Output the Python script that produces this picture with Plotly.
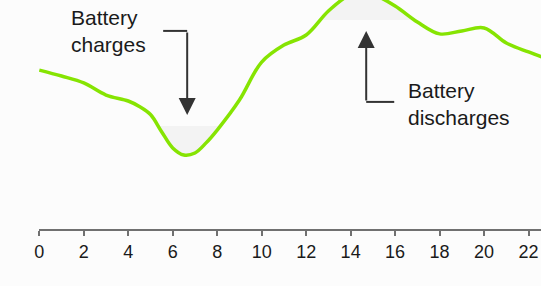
import plotly.graph_objects as go

# ---- data ----
hours = [0, 1, 2, 3, 4, 4.5, 5, 5.5, 6, 6.5, 7, 7.5, 8, 9, 10, 11, 12, 13, 14, 14.5,
         15, 16, 17, 18, 19, 20, 21, 22, 23]
power = [69.4, 66.8, 63.8, 58.5, 55.9, 53.5, 50.0, 42.5, 35.4, 32.3, 33.2, 37.6, 43.2,
         56.3, 72.9, 80.3, 84.7, 95.2, 102.5, 103.5, 102.5, 97.4, 90.4, 85.2,
         86.5, 87.8, 81.2, 77.3, 73.8]
x_ticks = [0, 2, 4, 6, 8, 10, 12, 14, 16, 18, 20, 22]

charge_level = 45.0      # threshold below which battery charges
discharge_level = 91.3   # threshold above which battery discharges

BG = "#fcfcfc"
SHADE = "#f3f3f3"
LINE = "#86e402"
FONT = "Liberation Sans, Arial, sans-serif"

fig = go.Figure()

# cover below the line in the charging window (keeps shade only above the line)
sub_c = [i for i, h in enumerate(hours) if 4 <= h <= 10]
fig.add_trace(go.Scatter(x=[hours[i] for i in sub_c], y=[power[i] for i in sub_c],
                         mode="lines", line=dict(width=0, shape="spline"),
                         fill="tozeroy", fillcolor=BG, hoverinfo="skip", showlegend=False))

# cover above the line in the discharging window (keeps shade only below the line)
sub_d = [i for i, h in enumerate(hours) if 11 <= h <= 19]
fig.add_trace(go.Scatter(x=[hours[i] for i in sub_d], y=[150] * len(sub_d),
                         mode="lines", line=dict(width=0),
                         hoverinfo="skip", showlegend=False))
fig.add_trace(go.Scatter(x=[hours[i] for i in sub_d], y=[power[i] for i in sub_d],
                         mode="lines", line=dict(width=0, shape="spline"),
                         fill="tonexty", fillcolor=BG, hoverinfo="skip", showlegend=False))

# main line
fig.add_trace(go.Scatter(x=hours, y=power, mode="lines",
                         line=dict(color=LINE, width=3.5, shape="spline"),
                         hoverinfo="skip", showlegend=False))

shapes = [
    dict(type="rect", layer="below", xref="x", yref="y", x0=5, x1=9,
         y0=0, y1=charge_level, fillcolor=SHADE, line=dict(width=0)),
    dict(type="rect", layer="below", xref="x", yref="y", x0=12, x1=18,
         y0=discharge_level, y1=120, fillcolor=SHADE, line=dict(width=0)),
    # elbow segments of the arrows
    dict(type="line", xref="x", yref="y", x0=5.57, x1=6.65, y0=86.5, y1=86.5,
         line=dict(color="#333333", width=2)),
    dict(type="line", xref="x", yref="y", x0=14.70, x1=15.96, y0=55.5, y1=55.5,
         line=dict(color="#333333", width=2)),
]


def px_x(px):
    return (px - 39.3) / 22.22


def px_y(py):
    return (229 - py) / 2.29


annotations = [
    dict(x=6.65, y=49.8, xref="x", yref="y", text="", showarrow=True,
         ax=0, ay=-84, arrowhead=2, arrowsize=1.7, arrowwidth=2, arrowcolor="#333333"),
    dict(x=14.70, y=86.5, xref="x", yref="y", text="", showarrow=True,
         ax=0, ay=71, arrowhead=2, arrowsize=1.7, arrowwidth=2, arrowcolor="#333333"),
    dict(x=px_x(69), y=px_y(4), xref="x", yref="y", text="Battery<br>charges",
         showarrow=False, xanchor="left", yanchor="top", align="left",
         font=dict(family=FONT, size=21, color="#1a1a1a")),
    dict(x=px_x(406), y=px_y(77), xref="x", yref="y", text="Battery<br>discharges",
         showarrow=False, xanchor="left", yanchor="top", align="left",
         font=dict(family=FONT, size=21, color="#1a1a1a")),
    dict(x=px_x(21), y=px_y(94), xref="x", yref="y", text="Power", showarrow=False,
         textangle=-90, font=dict(family=FONT, size=17, color="#1a1a1a")),
    dict(x=px_x(294.7), y=px_y(277.5), xref="x", yref="y",
         text="hour of day", showarrow=False,
         font=dict(family=FONT, size=17, color="#1a1a1a")),
]

fig.update_layout(
    width=541, height=286,
    margin=dict(l=39, r=0, t=0, b=57),
    paper_bgcolor=BG, plot_bgcolor=BG,
    shapes=shapes, annotations=annotations,
    xaxis=dict(range=[-0.013, 22.56], tickmode="array", tickvals=x_ticks,
               ticktext=[str(v) for v in x_ticks], showgrid=False, zeroline=False,
               showline=True, linecolor="#707070", linewidth=2,
               ticks="outside", ticklen=5, tickwidth=2, tickcolor="#707070",
               tickfont=dict(family=FONT, size=18, color="#1a1a1a")),
    yaxis=dict(range=[0, 100], visible=False, showgrid=False, zeroline=False),
)

fig.write_html(
    "out.html",
    config={"displayModeBar": False},
    post_script="document.body.style.margin='0';document.body.style.background='#fcfcfc';",
)
